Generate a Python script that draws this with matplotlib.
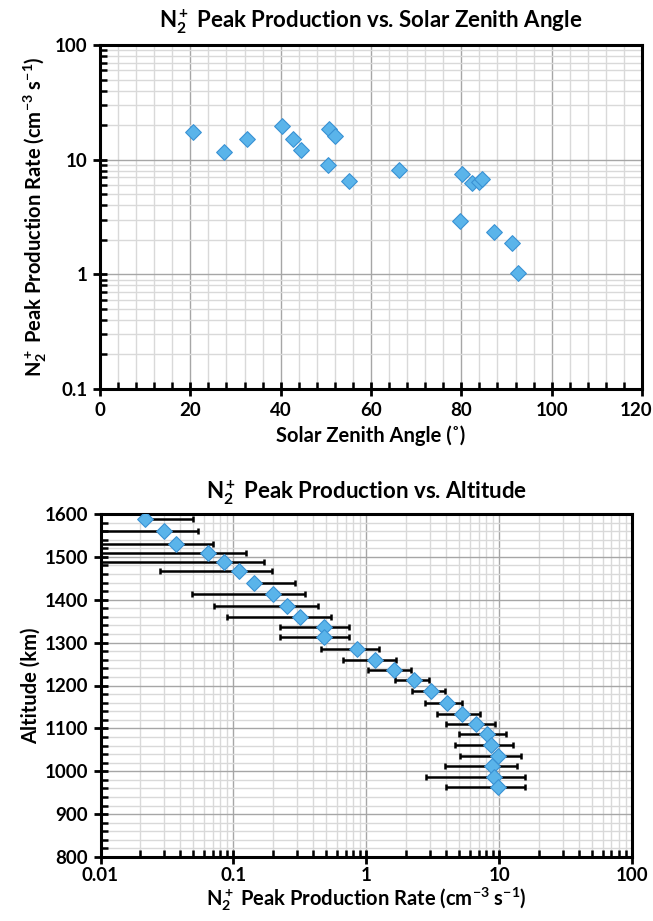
import matplotlib
matplotlib.use("Agg")
import matplotlib.pyplot as plt
import numpy as np
from matplotlib.ticker import MultipleLocator, LogLocator, NullFormatter, FixedLocator, FuncFormatter
from matplotlib.transforms import ScaledTranslation

plt.rcParams['font.family'] = ['Lato', 'DejaVu Sans']
plt.rcParams['font.weight'] = 'bold'
plt.rcParams['mathtext.fontset'] = 'custom'
plt.rcParams['mathtext.rm'] = 'Lato:bold'
plt.rcParams['mathtext.it'] = 'Lato:bold'
plt.rcParams['mathtext.bf'] = 'Lato:bold'
plt.rcParams['mathtext.default'] = 'regular'

# ---- Data: top chart (solar zenith angle vs peak production) ----
sza = [20.6, 27.4, 32.6, 40.2, 42.8, 44.4, 50.6, 52.1, 50.4, 55.2,
       66.3, 80.2, 82.3, 83.9, 84.6, 79.8, 87.3, 91.2, 92.5]
peak_rate = [17.3, 11.6, 15.2, 19.8, 15.1, 12.1, 18.4, 16.1, 8.9, 6.5,
             8.2, 7.5, 6.2, 6.4, 6.8, 2.94, 2.34, 1.88, 1.02]

# ---- Data: bottom chart (altitude profile) ----
altitude = [1589, 1560, 1531, 1508, 1488, 1466, 1439, 1414, 1386, 1360,
            1336, 1312, 1286, 1260, 1237, 1212, 1187, 1160, 1134, 1111,
            1088, 1061, 1035, 1012, 987, 964]
prod_rate = [0.0216, 0.030, 0.0367, 0.0643, 0.0853, 0.111, 0.142, 0.198, 0.254, 0.315,
             0.482, 0.482, 0.853, 1.17, 1.61, 2.30, 3.07, 4.02, 5.28, 6.65,
             8.09, 8.67, 9.86, 8.83, 9.2, 9.86]
prod_err = [0.0284, 0.024, 0.034, 0.060, 0.0848, 0.083, 0.148, 0.149, 0.183, 0.225,
            0.258, 0.258, 0.397, 0.50, 0.58, 0.66, 0.86, 1.26, 1.85, 2.7,
            3.1, 4.0, 4.8, 4.9, 6.4, 5.9]

top_xticks = [0, 20, 40, 60, 80, 100, 120]
top_yticks = [0.1, 1, 10, 100]
bot_xticks = [0.01, 0.1, 1, 10, 100]
bot_yticks = [800, 900, 1000, 1100, 1200, 1300, 1400, 1500, 1600]

W, H = 653, 921
fig = plt.figure(figsize=(W / 100, H / 100), dpi=100)

def fx(px):
    return px / W

def fy(py):
    return 1 - py / H

mface = '#5AB4EA'
medge = '#3A92D4'
major_grid = '#A6A6A6'
minor_grid = '#D9D9D9'
label_fs = 14.5
tick_fs = 13.5
title_fs = 16

def fmt_num(v, pos=None):
    if v >= 1:
        return '%d' % round(v)
    return ('%g' % v)

# ---------------- Top chart ----------------
ax1 = fig.add_axes([fx(100), fy(389), fx(642) - fx(100), fy(45) - fy(389)])
ax1.set_yscale('log')
ax1.set_xlim(0, 120)
ax1.set_ylim(0.1, 100)
ax1.xaxis.set_major_locator(FixedLocator(top_xticks))
ax1.xaxis.set_minor_locator(MultipleLocator(4))
ax1.yaxis.set_major_locator(FixedLocator(top_yticks))
ax1.yaxis.set_minor_locator(LogLocator(base=10, subs=np.arange(2, 10)))
ax1.yaxis.set_major_formatter(FuncFormatter(fmt_num))
ax1.yaxis.set_minor_formatter(NullFormatter())
ax1.grid(which='major', color=major_grid, lw=1.0)
ax1.grid(which='minor', color=minor_grid, lw=1.0)
ax1.set_axisbelow(True)
ax1.scatter(sza, peak_rate, marker='D', s=64, facecolor=mface, edgecolor=medge,
            linewidth=0.8, zorder=3)
ax1.set_title(r'N$_2^+$ Peak Production vs. Solar Zenith Angle', fontsize=title_fs,
              fontweight='bold', pad=12)
ax1.set_xlabel('Solar Zenith Angle (˚)', fontsize=label_fs, fontweight='bold', labelpad=5)
ax1.set_ylabel(r'N$_2^+$ Peak Production Rate (cm$^{-3}$ s$^{-1}$)', fontsize=label_fs,
               fontweight='bold', labelpad=4)

# ---------------- Bottom chart ----------------
ax2 = fig.add_axes([fx(100.5), fy(857), fx(632) - fx(100.5), fy(514) - fy(857)])
ax2.set_xscale('log')
ax2.set_xlim(0.01, 100)
ax2.set_ylim(800, 1600)
ax2.xaxis.set_major_locator(FixedLocator(bot_xticks))
ax2.xaxis.set_minor_locator(LogLocator(base=10, subs=np.arange(2, 10)))
ax2.xaxis.set_major_formatter(FuncFormatter(fmt_num))
ax2.xaxis.set_minor_formatter(NullFormatter())
ax2.yaxis.set_major_locator(FixedLocator(bot_yticks))
ax2.yaxis.set_minor_locator(MultipleLocator(20))
ax2.grid(which='major', color=major_grid, lw=1.0)
ax2.grid(which='minor', color=minor_grid, lw=1.0)
ax2.set_axisbelow(True)

vals = np.array(prod_rate)
errs = np.array(prod_err)
lower = np.where(vals - errs > 0, errs, 0.0)
ax2.errorbar(prod_rate, altitude, xerr=[lower, errs], fmt='none', ecolor='black',
             elinewidth=1.8, capsize=2.5, capthick=1.8, zorder=2)
ax2.scatter(prod_rate, altitude, marker='D', s=64, facecolor=mface, edgecolor=medge,
            linewidth=0.8, zorder=3)
ax2.set_title(r'N$_2^+$ Peak Production vs. Altitude', fontsize=title_fs,
              fontweight='bold', pad=11)
ax2.set_xlabel(r'N$_2^+$ Peak Production Rate (cm$^{-3}$ s$^{-1}$)', fontsize=label_fs,
               fontweight='bold', labelpad=1)
ax2.set_ylabel('Altitude (km)', fontsize=label_fs, fontweight='bold', labelpad=3)

for ax in (ax1, ax2):
    for sp in ax.spines.values():
        sp.set_linewidth(2.2)
        sp.set_color('black')
    ax.tick_params(which='major', direction='inout', length=10, width=2, labelsize=tick_fs,
                   top=False, right=False, pad=4)
    ax.tick_params(which='minor', direction='in', length=5, width=1.8, top=False, right=False)
    for lab in ax.get_xticklabels() + ax.get_yticklabels():
        lab.set_fontweight('bold')
ax2.tick_params(axis='x', which='major', pad=2)

# keep the last top-chart tick label inside the canvas
fig.canvas.draw()
last = ax1.get_xticklabels()[-1]
last.set_transform(last.get_transform() + ScaledTranslation(-6 / 100, 0, fig.dpi_scale_trans))

fig.savefig('out.png', dpi=100, facecolor='white')
